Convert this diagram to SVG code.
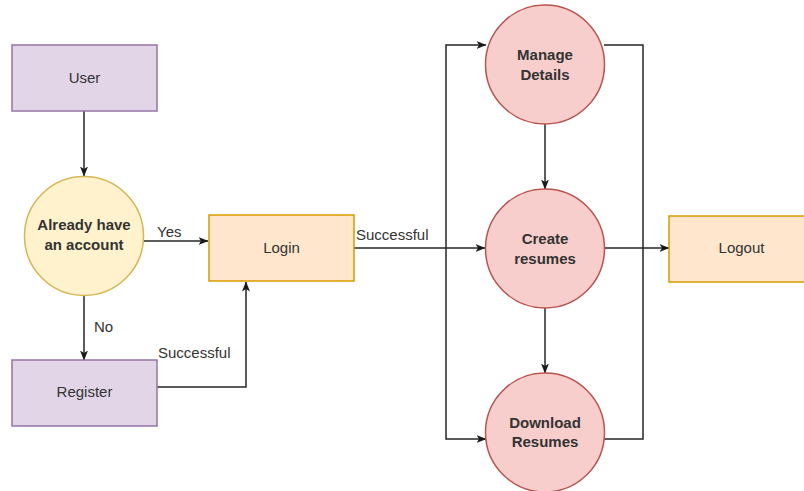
<svg xmlns="http://www.w3.org/2000/svg" width="804" height="491" viewBox="0 0 804 491">
<defs>
<marker id="arr" viewBox="0 0 10 8" refX="9.5" refY="4" markerWidth="10" markerHeight="8" markerUnits="userSpaceOnUse" orient="auto">
<path d="M0,0 L10,4 L0,8 L2.5,4 Z" fill="#1a1a1a"/>
</marker>
</defs>
<style>
text{font-family:"Liberation Sans",Arial,sans-serif;font-size:15px;fill:#333;}
.b{font-weight:bold;text-anchor:middle;}
.c{text-anchor:middle;}
.purple{fill:#e1d5e7;stroke:#9673a6;stroke-width:1.5;}
.yellow{fill:#fff2cc;stroke:#d6b656;stroke-width:1.5;}
.orange{fill:#ffe6cc;stroke:#d79b00;stroke-width:1.5;}
.red{fill:#f8cecc;stroke:#b85450;stroke-width:1.5;}
.e{fill:none;stroke:#262626;stroke-width:1.5;}
.ea{fill:none;stroke:#262626;stroke-width:1.5;marker-end:url(#arr);}
</style>
<rect width="804" height="491" fill="#ffffff"/>
<g id="connectors">
<path class="ea" d="M84,111 L84,176"/>
<path class="ea" d="M143,241 L208,241"/>
<path class="ea" d="M84,295 L84,360"/>
<path class="ea" d="M157,387 L246,387 L246,282"/>
<path class="ea" d="M354,248 L485,248"/>
<path class="ea" d="M446,248 L446,45 L486,45"/>
<path class="ea" d="M446,248 L446,439 L486,439"/>
<path class="e" d="M604,45 L643,45 L643,439 L604,439"/>
<path class="ea" d="M605,248 L669,248"/>
<path class="ea" d="M545,124 L545,189"/>
<path class="ea" d="M545,308 L545,373"/>
<text x="157" y="237">Yes</text>
<text x="94" y="332">No</text>
<text x="158" y="358">Successful</text>
<text x="356" y="240">Successful</text>
</g>
<g id="user">
<rect class="purple" x="12" y="45" width="145" height="66"/>
<text class="c" x="84.5" y="83">User</text>
</g>
<g id="already">
<circle class="yellow" cx="84" cy="236" r="59.5"/>
<text class="b" x="84" y="230">Already have</text>
<text class="b" x="84" y="250">an account</text>
</g>
<g id="register">
<rect class="purple" x="12" y="360" width="145" height="66"/>
<text class="c" x="84.5" y="397">Register</text>
</g>
<g id="login">
<rect class="orange" x="209" y="215" width="145" height="66"/>
<text class="c" x="281.5" y="253">Login</text>
</g>
<g id="manage">
<circle class="red" cx="545" cy="64.5" r="59.5"/>
<text class="b" x="545" y="60">Manage</text>
<text class="b" x="545" y="80">Details</text>
</g>
<g id="create">
<circle class="red" cx="545" cy="248.5" r="59.5"/>
<text class="b" x="545" y="244">Create</text>
<text class="b" x="545" y="264">resumes</text>
</g>
<g id="download">
<circle class="red" cx="545" cy="432.5" r="59.5"/>
<text class="b" x="545" y="428">Download</text>
<text class="b" x="545" y="447">Resumes</text>
</g>
<g id="logout">
<rect class="orange" x="669" y="216" width="145" height="66"/>
<text class="c" x="741.5" y="253">Logout</text>
</g>
</svg>
